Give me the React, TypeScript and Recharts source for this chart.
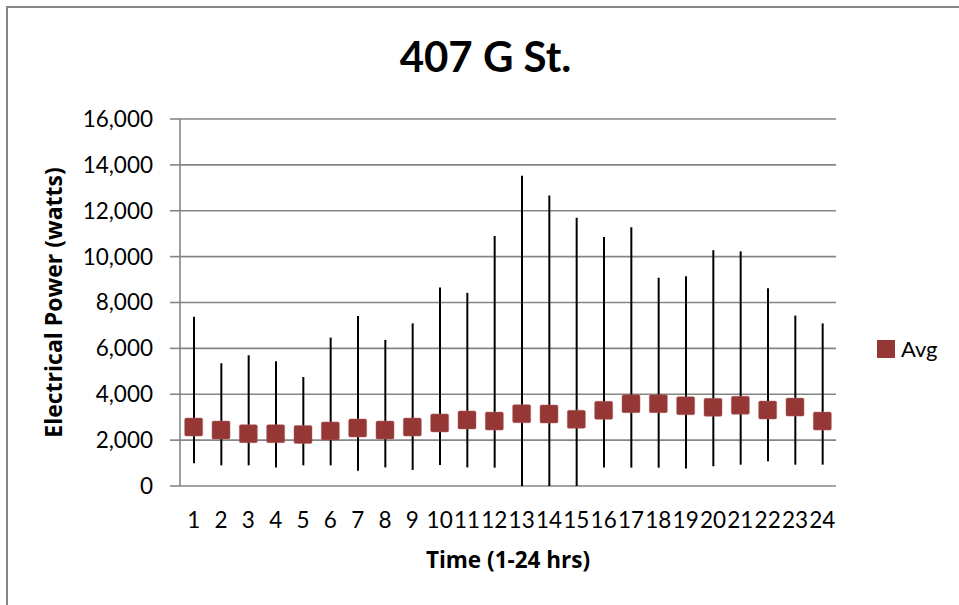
import { ComposedChart, Bar, Line, XAxis, YAxis, CartesianGrid, Legend } from 'recharts';

const hours = [1, 2, 3, 4, 5, 6, 7, 8, 9, 10, 11, 12, 13, 14, 15, 16, 17, 18, 19, 20, 21, 22, 23, 24];
const avgWatts = [2570, 2440, 2280, 2280, 2250, 2400, 2530, 2440, 2570, 2750, 2880, 2830, 3150, 3140, 2910, 3300, 3590, 3590, 3500, 3430, 3520, 3310, 3440, 2830];
const maxWatts = [7380, 5350, 5700, 5440, 4750, 6470, 7410, 6370, 7090, 8650, 8420, 10900, 13530, 12660, 11690, 10860, 11280, 9080, 9140, 10280, 10230, 8620, 7430, 7090];
const minWatts = [990, 900, 900, 810, 900, 900, 670, 810, 700, 920, 810, 800, 0, 0, 0, 810, 800, 800, 760, 860, 930, 1080, 930, 930];
const yTicks = [0, 2000, 4000, 6000, 8000, 10000, 12000, 14000, 16000];

const data = hours.map((h, i) => ({
    hour: h,
    range: [minWatts[i], maxWatts[i]],
    avg: avgWatts[i],
}));

// Excel puts the x tick marks between the categories
const boundaryTicks = [...hours.map((h) => h - 0.5), 24.5];

const FONT = 'Lato, "Open Sans", sans-serif';
const TITLE_FONT = '"Open Sans", Lato, sans-serif';
const GRAY = '#858585';
const MARKER = '#953735';

const AvgMarker = (props: any) => {
    const { cx, cy } = props;
    if (cx == null || cy == null) return null;
    return <rect x={cx - 9} y={cy - 9} width={18} height={18} rx={1.5} fill={MARKER} stroke="#b06060" strokeWidth={0.5} />;
};

const YLabel = (props: any) => {
    const vb = props.viewBox || {};
    const cy = (vb.y ?? 119) + (vb.height ?? 367) / 2;
    return (
        <text x={62} y={cy} transform={`rotate(-90, 62, ${cy})`} textAnchor="middle"
            style={{ fontFamily: TITLE_FONT, fontWeight: 700, fontSize: 23, fill: '#000' }}>
            Electrical Power (watts)
        </text>
    );
};

const LegendBox = () => (
    <div style={{ display: 'flex', alignItems: 'center', fontFamily: FONT, fontSize: 22 }}>
        <span style={{ display: 'inline-block', width: 18, height: 18, background: MARKER, marginRight: 6 }} />
        <span>Avg</span>
    </div>
);

export default function App() {
    return (
        <div style={{ position: 'absolute', left: 0, top: 0, width: 959, height: 605, background: '#fff', fontFamily: FONT }}>
            <div style={{ position: 'absolute', left: 6, top: 6, width: 953, height: 599, borderLeft: `2px solid ${GRAY}`, borderTop: `2px solid ${GRAY}` }} />
            <div style={{ position: 'absolute', left: 0, top: 35, width: 971, textAlign: 'center', fontSize: 42, fontWeight: 700, lineHeight: 1, color: '#000' }}>
                407 G St.
            </div>
            <ComposedChart
                width={959}
                height={605}
                data={data}
                margin={{ top: 119, right: 123, bottom: 2, left: 0 }}
                style={{ position: 'absolute', left: 0, top: 0, fontFamily: FONT }}
            >
                <CartesianGrid vertical={false} stroke={GRAY} strokeWidth={1.6} />
                <XAxis
                    xAxisId="b"
                    type="number"
                    dataKey="hour"
                    domain={[0.5, 24.5]}
                    ticks={boundaryTicks}
                    allowDataOverflow
                    height={0}
                    tick={false}
                    tickSize={8}
                    tickLine={{ stroke: GRAY, strokeWidth: 1.6 }}
                    axisLine={{ stroke: GRAY, strokeWidth: 1.6 }}
                />
                <XAxis
                    type="number"
                    dataKey="hour"
                    domain={[0.5, 24.5]}
                    ticks={hours}
                    interval={0}
                    allowDataOverflow
                    height={90}
                    tickSize={0}
                    tickMargin={26}
                    tickLine={false}
                    axisLine={false}
                    tick={{ fontSize: 22.5, fill: '#000', fontFamily: FONT }}
                    label={{ value: 'Time (1-24 hrs)', position: 'insideBottom', offset: 8, style: { fontFamily: TITLE_FONT, fontWeight: 700, fontSize: 22.5, fill: '#000' } }}
                />
                <YAxis
                    width={180}
                    domain={[0, 16000]}
                    ticks={yTicks}
                    interval={0}
                    tickFormatter={(v: number) => v.toLocaleString('en-US')}
                    tickSize={10}
                    tickMargin={17}
                    tickLine={{ stroke: GRAY, strokeWidth: 1.6 }}
                    axisLine={{ stroke: GRAY, strokeWidth: 1.6 }}
                    tick={{ fontSize: 22.5, fill: '#000', fontFamily: FONT }}
                    label={<YLabel />}
                />
                <Legend
                    content={<LegendBox />}
                    wrapperStyle={{ position: 'absolute', left: 877, top: 335, width: 80 }}
                />
                <Bar dataKey="range" barSize={2} fill="#000" isAnimationActive={false} legendType="none" />
                <Line dataKey="avg" name="Avg" stroke="none" dot={<AvgMarker />} activeDot={false} isAnimationActive={false} />
            </ComposedChart>
        </div>
    );
}
